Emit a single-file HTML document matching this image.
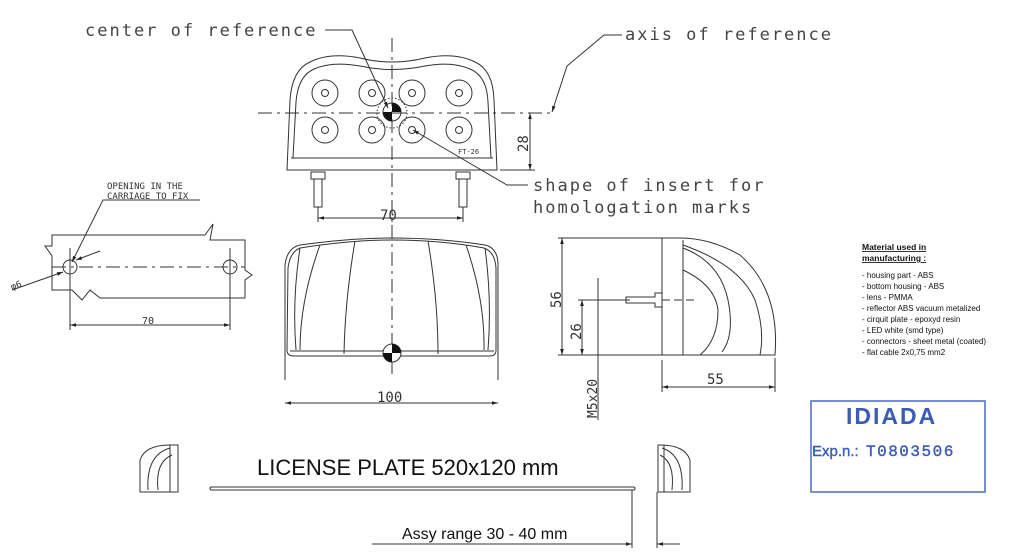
<!DOCTYPE html>
<html><head><meta charset="utf-8"><style>
html,body{margin:0;padding:0;background:#fff;}
svg{display:block;}
.m{font-family:"DejaVu Sans Mono","Liberation Mono",monospace;fill:#333;}
.big{letter-spacing:2px;fill:#444;}
</style></head><body>
<svg width="1012" height="556" viewBox="0 0 1012 556" xmlns="http://www.w3.org/2000/svg">
<defs>
<marker id="a" viewBox="0 0 10 10" refX="10" refY="5" markerWidth="8" markerHeight="6" orient="auto-start-reverse"><path d="M0,2 L10,5 L0,8z" fill="#222"/></marker>
</defs>
<g fill="none" stroke="#333" stroke-width="1">
<line x1="258" y1="113" x2="552" y2="113" stroke-dasharray="14,5,3,5"/>
<line x1="392" y1="38" x2="392" y2="232" stroke-dasharray="14,5,3,5"/>
<path d="M287,170 L290,100 Q292,70 310,62 Q330,52 360,58 Q392,66 425,58 Q455,52 475,62 Q493,70 494,100 L497,170 Z"/>
<path d="M293,158 L296,102 Q298,76 314,69 Q332,61 360,66 Q392,73 425,66 Q452,61 470,69 Q487,76 488,102 L491,158"/>
<line x1="291" y1="158" x2="493" y2="158"/>
<g>
<circle cx="325" cy="93" r="13"/><circle cx="325" cy="93" r="3.5"/>
<circle cx="372" cy="93" r="13"/><circle cx="372" cy="93" r="3.5"/>
<circle cx="412" cy="93" r="13"/><circle cx="412" cy="93" r="3.5"/>
<circle cx="459" cy="93" r="13"/><circle cx="459" cy="93" r="3.5"/>
<circle cx="325" cy="130" r="13"/><circle cx="325" cy="130" r="3.5"/>
<circle cx="372" cy="130" r="13"/><circle cx="372" cy="130" r="3.5"/>
<circle cx="412" cy="130" r="13"/><circle cx="412" cy="130" r="3.5"/>
<circle cx="459" cy="130" r="13"/><circle cx="459" cy="130" r="3.5"/>
</g>
<circle cx="392" cy="113" r="15" stroke-dasharray="1.5,2"/>
<circle cx="392" cy="112" r="9"/>
<rect x="311" y="172" width="14" height="7"/><rect x="314" y="179" width="8" height="28"/>
<rect x="456" y="172" width="14" height="7"/><rect x="459" y="179" width="8" height="28"/>
<line x1="318" y1="207" x2="318" y2="222"/><line x1="463" y1="207" x2="463" y2="222"/>
<line x1="318" y1="218" x2="463" y2="218" marker-start="url(#a)" marker-end="url(#a)"/>
<line x1="500" y1="170" x2="535" y2="170"/>
<line x1="530" y1="113" x2="530" y2="170" marker-start="url(#a)" marker-end="url(#a)"/>
<polyline points="325,30 352,30 388,108" marker-end="url(#a)"/>
<polyline points="622,35 604,35 567,66 552,112" marker-end="url(#a)"/>
<polyline points="528,185 507,185 413,130" marker-end="url(#a)"/>
<path d="M285,380 L285,265 Q287,248 300,245 Q350,238 392,238 Q440,238 485,245 Q498,248 498,265 L498,380"/>
<path d="M287,350 L288,268 Q290,252 300,248 Q350,240 392,240 Q440,240 484,248 Q495,252 496,268 L496,350 Q496,356 490,356 L294,356 Q287,356 287,350Z"/>
<line x1="290" y1="351" x2="494" y2="351"/>
<path d="M300,248 Q292,300 296,350 M320,245 Q300,300 300,350 M355,241 Q345,300 344,354 M428,241 Q438,300 438,354 M466,245 Q485,300 484,350 M485,248 Q492,300 488,350"/>
<line x1="392" y1="225" x2="392" y2="378" stroke-dasharray="14,5,3,5"/>
<circle cx="392" cy="353" r="9" fill="#fff"/>
<line x1="285" y1="403" x2="498" y2="403" marker-start="url(#a)" marker-end="url(#a)"/>
<line x1="558" y1="238" x2="662" y2="238"/>
<line x1="558" y1="355" x2="662" y2="355"/>
<line x1="562" y1="238" x2="562" y2="355" marker-start="url(#a)" marker-end="url(#a)"/>
<line x1="578" y1="300" x2="630" y2="300"/>
<line x1="582" y1="300" x2="582" y2="355" marker-start="url(#a)" marker-end="url(#a)"/>
<line x1="598" y1="278" x2="598" y2="420"/>
<path d="M626,297 L655,297 L655,293 L662,293 L662,307 L655,307 L655,303 L626,303 Z"/>
<line x1="662" y1="300" x2="697" y2="300" stroke-dasharray="8,4"/>
<path d="M662,238 L662,355 L775,355 Q780,290 740,255 Q710,238 680,238 Z"/>
<line x1="683" y1="240" x2="683" y2="355"/>
<path d="M683,248 Q720,262 728,300 Q735,335 722,352"/>
<path d="M683,270 Q715,285 718,310 Q718,340 700,355"/>
<path d="M683,245 Q740,265 755,300 Q765,330 760,355"/>
<line x1="662" y1="360" x2="662" y2="392"/><line x1="775" y1="358" x2="775" y2="392"/>
<line x1="662" y1="387" x2="775" y2="387" marker-start="url(#a)" marker-end="url(#a)"/>
<path d="M52,235 L205,235 L213,224 L210,240 L245,240 L245,270 L252,275 L245,280 L245,298 L100,298 L90,290 L82,300 L72,290 L52,290 L52,256 L45,246 L52,246Z"/>
<line x1="52" y1="267" x2="245" y2="267" stroke-dasharray="14,5,3,5"/>
<circle cx="70" cy="267" r="7"/><circle cx="230" cy="267" r="7"/>
<line x1="70" y1="248" x2="70" y2="330"/><line x1="230" y1="248" x2="230" y2="330"/>
<line x1="70" y1="325" x2="230" y2="325" marker-start="url(#a)" marker-end="url(#a)"/>
<polyline points="200,200 103,200 72,262" marker-end="url(#a)"/>
<line x1="12" y1="290" x2="63" y2="272" marker-end="url(#a)"/>
<line x1="100" y1="251" x2="76" y2="260" marker-end="url(#a)"/>
<path d="M140,492 L140,460 Q145,445 170,445 L178,445 L178,492 Z"/>
<path d="M148,490 Q146,455 170,448 M158,490 Q155,462 172,455 M170,445 L170,492"/>
<path d="M690,492 L690,460 Q685,445 660,445 L658,445 L658,492 Z"/>
<path d="M682,490 Q684,455 662,448 M672,490 Q675,462 660,455 M664,445 L664,492"/>
<rect x="210" y="487" width="425" height="3" rx="1.5"/>
<line x1="632" y1="490" x2="632" y2="548"/><line x1="657" y1="492" x2="657" y2="548"/>
<line x1="372" y1="544" x2="632" y2="544" marker-end="url(#a)"/>
<line x1="680" y1="544" x2="657" y2="544" marker-end="url(#a)"/>
</g>
<g fill="#111">
<path d="M392,103 A9,9 0 0,1 401,112 L392,112Z M392,121 A9,9 0 0,1 383,112 L392,112Z"/>
<path d="M392,344 A9,9 0 0,1 401,353 L392,353Z M392,362 A9,9 0 0,1 383,353 L392,353Z"/>
</g>
<g class="m">
<text class="big" x="85" y="36" font-size="17">center of reference</text>
<text class="big" x="625" y="40" font-size="17">axis of reference</text>
<text class="big" x="533" y="191" font-size="17">shape of insert for</text>
<text class="big" x="533" y="213" font-size="17">homologation marks</text>
<text x="458" y="154" font-size="7">FT-26</text>
<text x="380" y="220" font-size="14">70</text>
<text x="0" y="0" font-size="14" transform="translate(528,152) rotate(-90)">28</text>
<text x="377" y="402" font-size="14">100</text>
<text x="0" y="0" font-size="14" transform="translate(561,308) rotate(-90)">56</text>
<text x="0" y="0" font-size="14" transform="translate(581,340) rotate(-90)">26</text>
<text x="0" y="0" font-size="13" transform="translate(597,418) rotate(-90)">M5x20</text>
<text x="707" y="384" font-size="14">55</text>
<text x="107" y="189" font-size="9">OPENING IN THE</text>
<text x="107" y="199" font-size="9">CARRIAGE TO FIX</text>
<text x="142" y="324" font-size="10">70</text>
<text x="0" y="0" font-size="9" transform="translate(12,290) rotate(-20)">φ6</text>
</g>
<g font-family="Liberation Sans, sans-serif" fill="#111">
<text x="862" y="250" font-size="8.5" font-weight="bold" text-decoration="underline">Material used in</text>
<text x="862" y="261" font-size="8.5" font-weight="bold" text-decoration="underline">manufacturing :</text>
<g font-size="8">
<text x="862" y="278">- housing part - ABS</text>
<text x="862" y="289">- bottom housing - ABS</text>
<text x="862" y="300">- lens - PMMA</text>
<text x="862" y="311">- reflector ABS vacuum metalized</text>
<text x="862" y="322">- cirquit plate - epoxyd resin</text>
<text x="862" y="333">- LED white (smd type)</text>
<text x="862" y="344">- connectors - sheet metal (coated)</text>
<text x="862" y="355">- flat cable 2x0,75 mm2</text>
</g>
<text x="257" y="475" font-size="22">LICENSE PLATE 520x120 mm</text>
<text x="402" y="539" font-size="16">Assy range 30 - 40 mm</text>
</g>
<rect x="811" y="401" width="174" height="91" fill="none" stroke="#4a6bc0" stroke-width="1.5"/>
<text x="846" y="424" font-family="Liberation Sans, sans-serif" font-size="23" font-weight="bold" fill="#3a5cb8" letter-spacing="2">IDIADA</text>
<text x="812" y="456" font-family="Liberation Sans, sans-serif" font-size="15" fill="#3a5cb8" stroke="#3a5cb8" stroke-width="0.4">Exp.n.:</text>
<text x="866" y="456" font-family="Liberation Mono, monospace" font-size="16" fill="#3a5cb8" stroke="#3a5cb8" stroke-width="0.4" letter-spacing="1.5">T0803506</text>
</svg>
</body></html>
